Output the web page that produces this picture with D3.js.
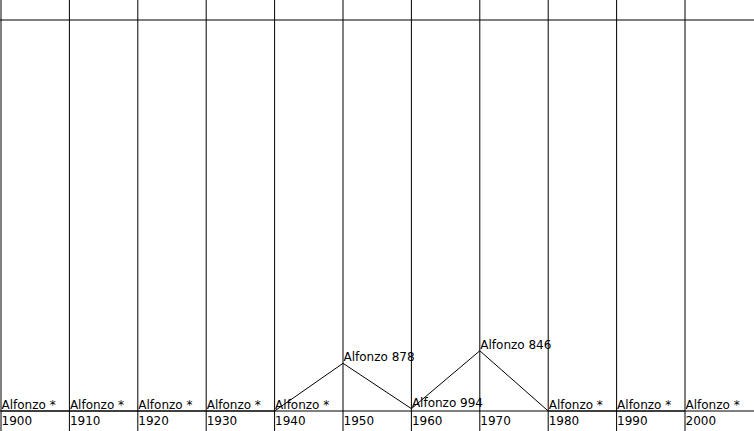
<!DOCTYPE html>
<html>
<head>
<meta charset="utf-8">
<script src="https://cdn.jsdelivr.net/npm/d3@7"></script>
<style>
  html, body { margin: 0; padding: 0; background: #fff; }
  svg { display: block; }
  text { font-family: "DejaVu Sans", sans-serif; font-size: 12px; fill: #000; }
</style>
</head>
<body>
<script>
const name = "Alfonzo";
const years = [1900, 1910, 1920, 1930, 1940, 1950, 1960, 1970, 1980, 1990, 2000];
// rank of the name per decade; null = not ranked (shown as "*")
const ranks = [null, null, null, null, null, 878, 994, 846, null, null, null];
const maxRank = 1000;

const W = 754, H = 431;
const svg = d3.select("body").append("svg").attr("width", W).attr("height", H);

const x = d3.scaleLinear().domain([1900, 2000]).range([1, 685]);
const y = d3.scaleLinear().domain([0, maxRank]).range([20, 411]);

const data = years.map((yr, i) => ({ year: yr, rank: ranks[i] }));
const val = d => d.rank == null ? maxRank : d.rank;

// vertical lines
svg.selectAll("line.v").data(years).join("line")
  .attr("x1", d => x(d)).attr("x2", d => x(d))
  .attr("y1", 0).attr("y2", H)
  .attr("stroke", "#000").attr("stroke-width", 1);

// horizontal lines
svg.append("line").attr("x1", 0).attr("x2", W).attr("y1", y(0)).attr("y2", y(0))
  .attr("stroke", "#000");
svg.append("line").attr("x1", 0).attr("x2", W).attr("y1", y(maxRank)).attr("y2", y(maxRank))
  .attr("stroke", "#000");

// year labels
svg.selectAll("text.yr").data(years).join("text")
  .attr("x", d => x(d) + 0.5).attr("y", 425)
  .text(d => d);

// line
const line = d3.line().x(d => x(d.year)).y(d => y(val(d)));
svg.append("path").datum(data).attr("d", line)
  .attr("fill", "none").attr("stroke", "#000").attr("stroke-width", 1);

// point labels
svg.selectAll("text.pt").data(data).join("text")
  .attr("x", d => x(d.year) + 0.5).attr("y", d => y(val(d)) - 2)
  .text(d => name + " " + (d.rank == null ? "*" : d.rank));
</script>
</body>
</html>
